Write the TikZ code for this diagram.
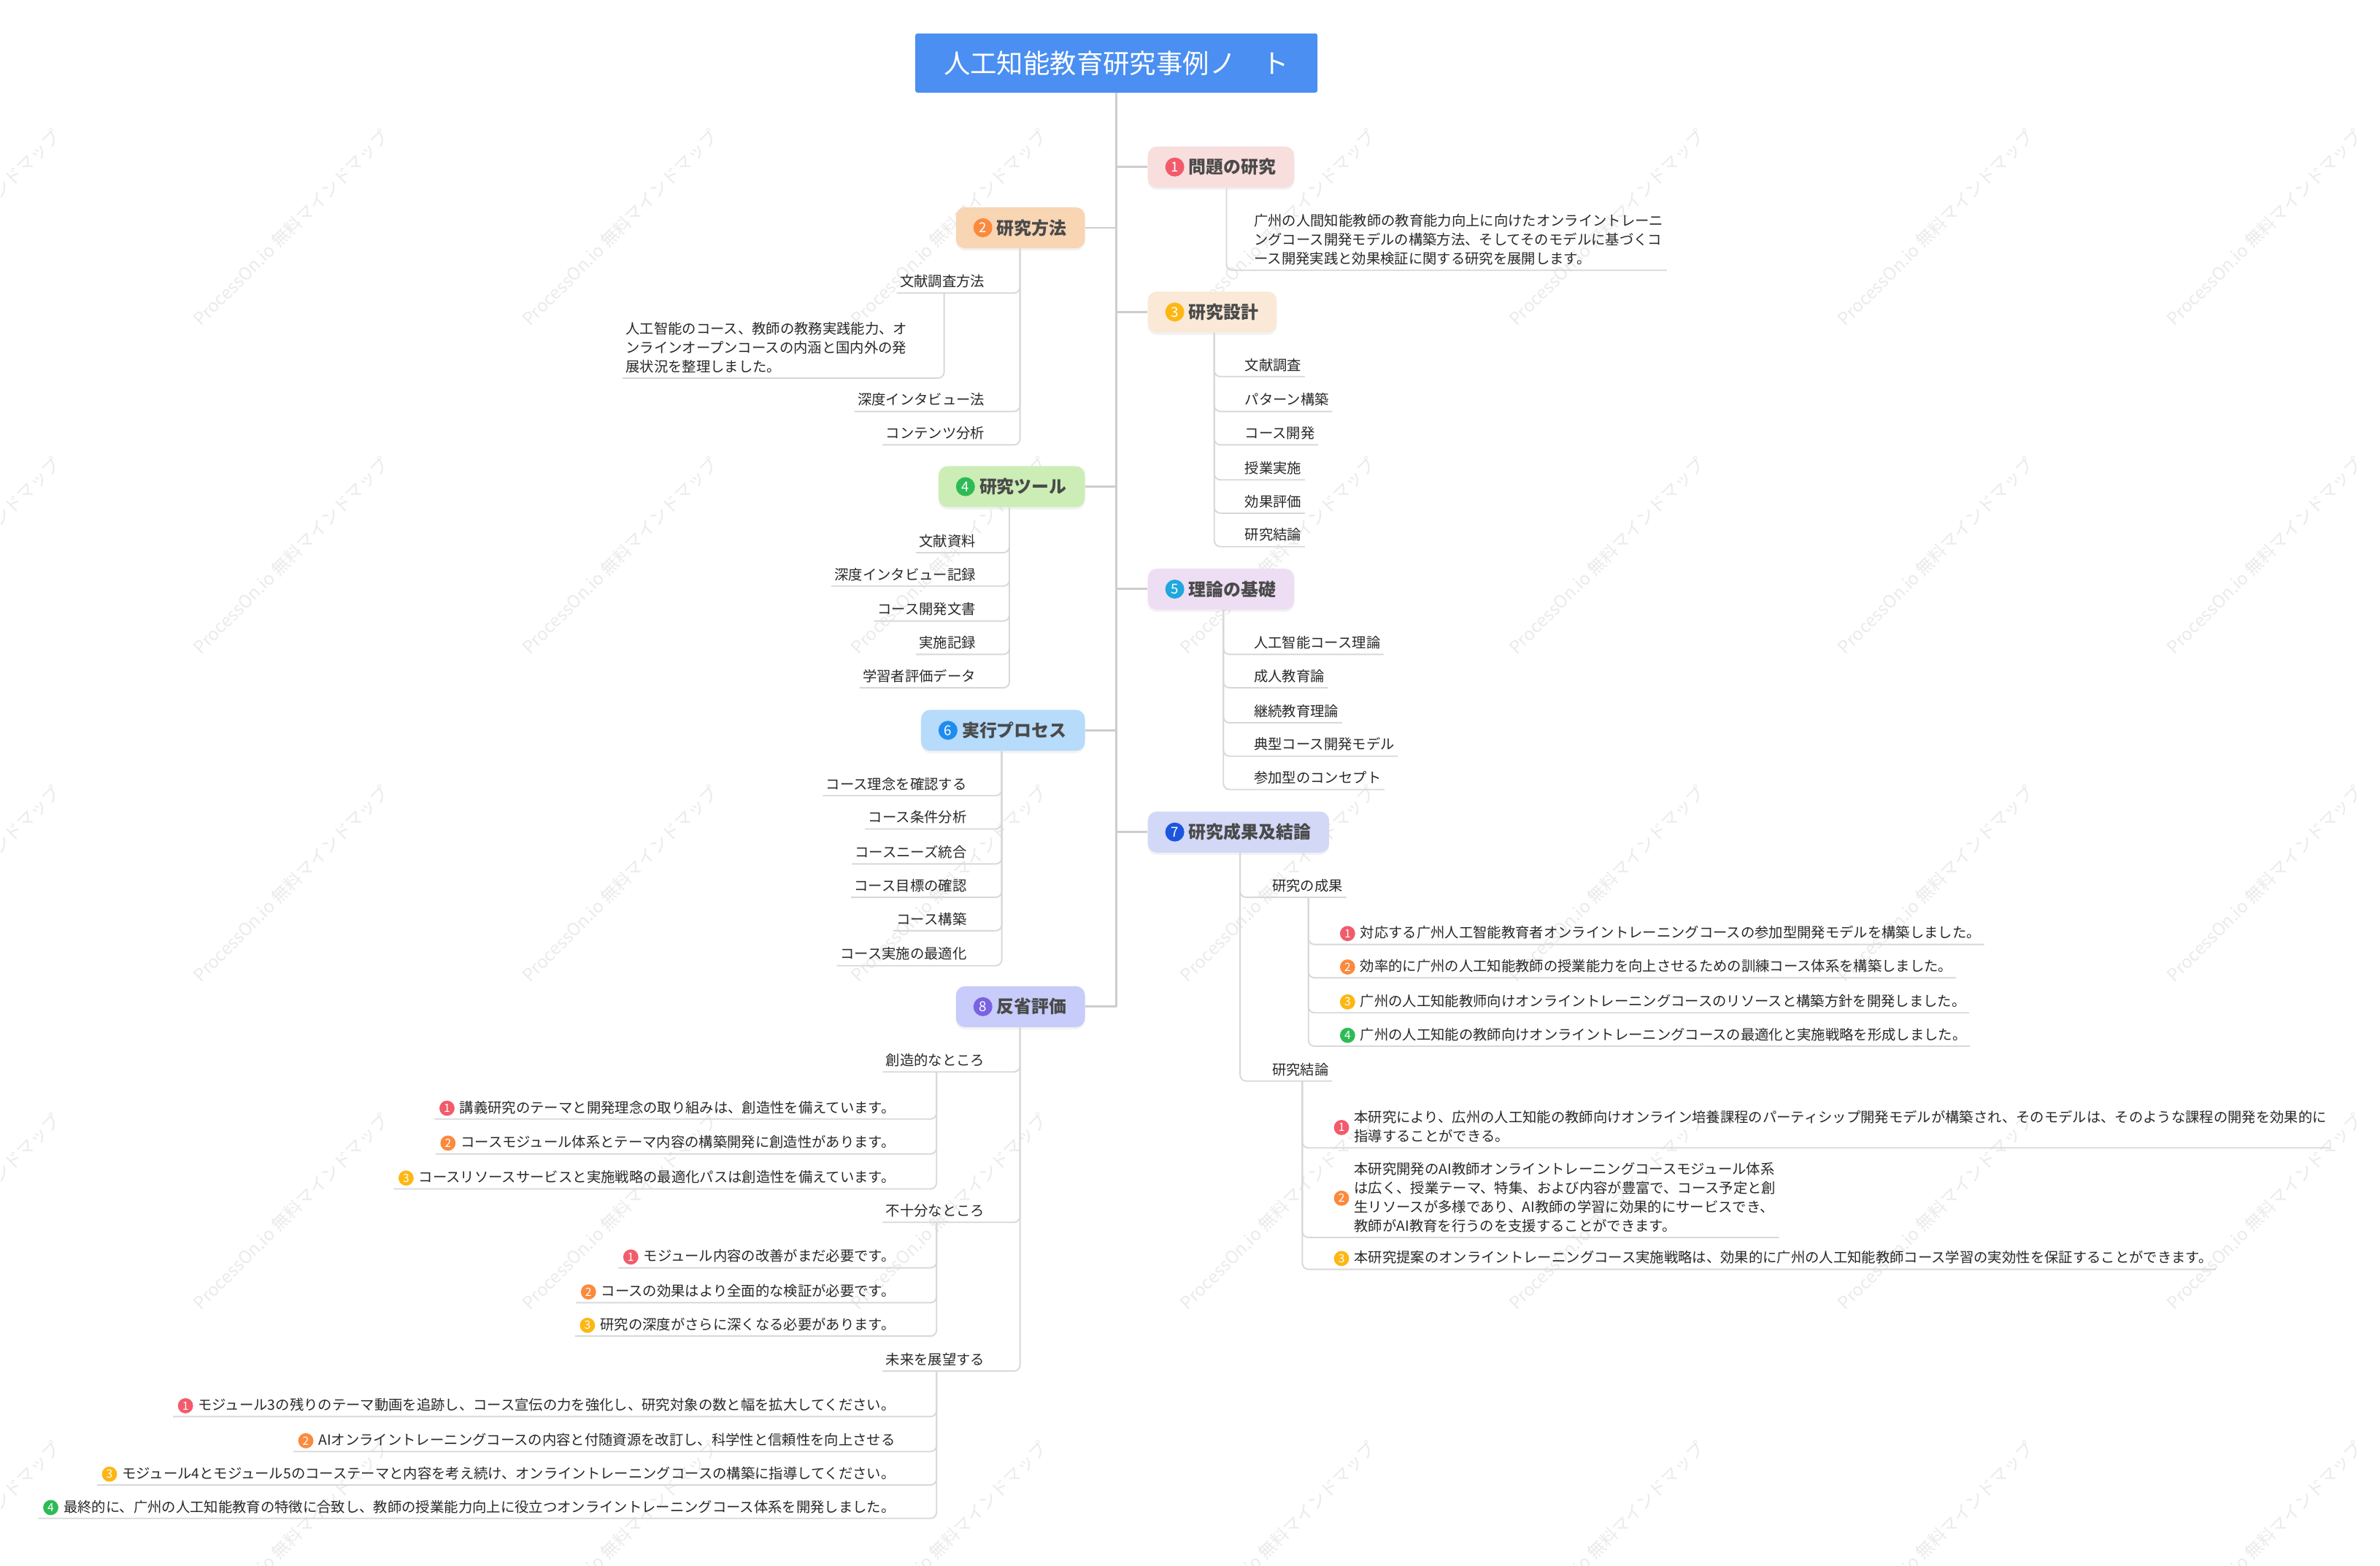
\documentclass[tikz,border=0pt]{standalone}
\usepackage{fontspec}
\setmainfont{Noto Sans CJK JP}
\usetikzlibrary{positioning,shadows}

\definecolor{rootblue}{HTML}{4A8FF1}
\definecolor{trunkgray}{HTML}{CDCDCD}
\definecolor{linkgray}{HTML}{D8D8D8}
\definecolor{headtext}{HTML}{4A4A4A}
\definecolor{leaftext}{HTML}{282828}
\definecolor{fillA}{HTML}{F9DEDE}
\definecolor{fillB}{HTML}{F8D5B3}
\definecolor{fillC}{HTML}{FBE9D8}
\definecolor{fillD}{HTML}{CDEDB7}
\definecolor{fillE}{HTML}{EEDEF4}
\definecolor{fillF}{HTML}{B6DBFB}
\definecolor{fillG}{HTML}{D3D8F7}
\definecolor{fillH}{HTML}{C7CCFA}
\definecolor{dotA}{HTML}{F25B6B}
\definecolor{dotB}{HTML}{FB8A3D}
\definecolor{dotC}{HTML}{FDB714}
\definecolor{dotD}{HTML}{2EBB55}
\definecolor{dotE}{HTML}{20A7DD}
\definecolor{dotF}{HTML}{1E8CF0}
\definecolor{dotG}{HTML}{1C56DE}
\definecolor{dotH}{HTML}{7B62E0}

\tikzset{
  root/.style={fill=rootblue, text=white, rounded corners=1.5pt,
    minimum width=265pt, minimum height=39pt, font=\fontsize{17.5}{20}\selectfont},
  topic/.style={rounded corners=6pt, minimum height=27pt, inner xsep=12pt,
    text=headtext, font=\fontsize{11.5}{13}\selectfont\bfseries,
    drop shadow={shadow xshift=0pt, shadow yshift=-1.5pt, opacity=0.10}},
  topicdot/.style={circle, inner sep=0pt, minimum size=12.5pt, text=white,
    font=\fontsize{9}{9}\selectfont},
  itemdot/.style={circle, inner sep=0pt, minimum size=10pt, text=white,
    font=\fontsize{7.5}{7.5}\selectfont},
  leaf/.style={inner xsep=2pt, inner ysep=2pt, text depth=2pt, text=leaftext,
    font=\fontsize{9.3}{12.5}\selectfont},
  para/.style={leaf, align=left},
  trunk/.style={draw=trunkgray, line width=1.4pt},
  link/.style={draw=linkgray, line width=0.9pt, rounded corners=4pt},
  wmark/.style={rotate=45, text=black!8, font=\fontsize{11.5}{12}\selectfont}
}

\begin{document}
\begin{tikzpicture}[x=1pt, y=-1pt]
  \fill[white] (0,0) rectangle (1568,1031);
  \useasboundingbox (0,0) rectangle (1568,1031);
  % watermark
  \foreach \i in {0,...,7}
    \foreach \j in {0,...,4}
      \node[wmark] at (-25+216.7*\i, 150+216*\j) {ProcessOn.io 無料マインドマップ};

  % root and main branches
  \node[root] (root) at (735.5,41.5) {人工知能教育研究事例ノ　ト};
  \node[topic, fill=fillA, anchor=west] (t1) at (756,110) {\hspace*{15pt}問題の研究};
  \node[topic, fill=fillB, anchor=east] (t2) at (715,150) {\hspace*{15pt}研究方法};
  \node[topic, fill=fillC, anchor=west] (t3) at (756,205.5) {\hspace*{15pt}研究設計};
  \node[topic, fill=fillD, anchor=east] (t4) at (715,320.5) {\hspace*{15pt}研究ツール};
  \node[topic, fill=fillE, anchor=west] (t5) at (756,388) {\hspace*{15pt}理論の基礎};
  \node[topic, fill=fillF, anchor=east] (t6) at (715,481) {\hspace*{15pt}実行プロセス};
  \node[topic, fill=fillG, anchor=west] (t7) at (756,548) {\hspace*{15pt}研究成果及結論};
  \node[topic, fill=fillH, anchor=east] (t8) at (715,663) {\hspace*{15pt}反省評価};
  \node[topicdot, fill=dotA, right=11.5pt of t1.west] (t1d) {1};
  \node[topicdot, fill=dotB, right=11.5pt of t2.west] (t2d) {2};
  \node[topicdot, fill=dotC, right=11.5pt of t3.west] (t3d) {3};
  \node[topicdot, fill=dotD, right=11.5pt of t4.west] (t4d) {4};
  \node[topicdot, fill=dotE, right=11.5pt of t5.west] (t5d) {5};
  \node[topicdot, fill=dotF, right=11.5pt of t6.west] (t6d) {6};
  \node[topicdot, fill=dotG, right=11.5pt of t7.west] (t7d) {7};
  \node[topicdot, fill=dotH, right=11.5pt of t8.west] (t8d) {8};

  \draw[trunk] (root.south) -- (root.south |- t8.east);
  \draw[trunk] (root.south |- t1.west) -- (t1.west);
  \draw[trunk] (root.south |- t2.east) -- (t2.east);
  \draw[trunk] (root.south |- t3.west) -- (t3.west);
  \draw[trunk] (root.south |- t4.east) -- (t4.east);
  \draw[trunk] (root.south |- t5.west) -- (t5.west);
  \draw[trunk] (root.south |- t6.east) -- (t6.east);
  \draw[trunk] (root.south |- t7.west) -- (t7.west);
  \draw[trunk] (root.south |- t8.east) -- (t8.east);

  % 1 問題の研究
  \coordinate (b1) at ([xshift=52pt]t1.south west);
  \node[para, anchor=south west] (p1) at (824,178)
    {广州の人間知能教師の教育能力向上に向けたオンライントレーニ\\ングコース開発モデルの構築方法、そしてそのモデルに基づくコ\\ース開発実践と効果検証に関する研究を展開します。};
  \draw[link] (b1) |- (p1.south east);

  % 2 研究方法
  \coordinate (b2) at ([xshift=-43pt]t2.south east);
  \node[leaf, anchor=south east] (l21) at (651,193) {文献調査方法};
  \node[leaf, anchor=south east] (l22) at (651,271) {深度インタビュー法};
  \node[leaf, anchor=south east] (l23) at (651,293) {コンテンツ分析};
  \draw[link] (b2) |- (l21.south west);
  \draw[link] (b2) |- (l22.south west);
  \draw[link] (b2) |- (l23.south west);
  \coordinate (b21) at ([xshift=-29pt]l21.south east);
  \node[para, anchor=south east] (p21) at (600,249)
    {人工智能のコース、教師の教務実践能力、オ\\ンラインオープンコースの内涵と国内外の発\\展状況を整理しました。};
  \draw[link] (b21) |- (p21.south west);

  % 3 研究設計
  \coordinate (b3) at ([xshift=44pt]t3.south west);
  \node[leaf, anchor=south west] (l31) at (818,248) {文献調査};
  \node[leaf, anchor=south west] (l32) at (818,271) {パターン構築};
  \node[leaf, anchor=south west] (l33) at (818,293) {コース開発};
  \node[leaf, anchor=south west] (l34) at (818,316) {授業実施};
  \node[leaf, anchor=south west] (l35) at (818,338) {効果評価};
  \node[leaf, anchor=south west] (l36) at (818,360) {研究結論};
  \draw[link] (b3) |- (l31.south east);
  \draw[link] (b3) |- (l32.south east);
  \draw[link] (b3) |- (l33.south east);
  \draw[link] (b3) |- (l34.south east);
  \draw[link] (b3) |- (l35.south east);
  \draw[link] (b3) |- (l36.south east);

  % 4 研究ツール
  \coordinate (b4) at ([xshift=-50pt]t4.south east);
  \node[leaf, anchor=south east] (l41) at (645,364) {文献資料};
  \node[leaf, anchor=south east] (l42) at (645,386) {深度インタビュー記録};
  \node[leaf, anchor=south east] (l43) at (645,409) {コース開発文書};
  \node[leaf, anchor=south east] (l44) at (645,431) {実施記録};
  \node[leaf, anchor=south east] (l45) at (645,453) {学習者評価データ};
  \draw[link] (b4) |- (l41.south west);
  \draw[link] (b4) |- (l42.south west);
  \draw[link] (b4) |- (l43.south west);
  \draw[link] (b4) |- (l44.south west);
  \draw[link] (b4) |- (l45.south west);

  % 5 理論の基礎
  \coordinate (b5) at ([xshift=50pt]t5.south west);
  \node[leaf, anchor=south west] (l51) at (824,431) {人工智能コース理論};
  \node[leaf, anchor=south west] (l52) at (824,453) {成人教育論};
  \node[leaf, anchor=south west] (l53) at (824,476) {継続教育理論};
  \node[leaf, anchor=south west] (l54) at (824,498) {典型コース開発モデル};
  \node[leaf, anchor=south west] (l55) at (824,520) {参加型のコンセプト};
  \draw[link] (b5) |- (l51.south east);
  \draw[link] (b5) |- (l52.south east);
  \draw[link] (b5) |- (l53.south east);
  \draw[link] (b5) |- (l54.south east);
  \draw[link] (b5) |- (l55.south east);

  % 6 実行プロセス
  \coordinate (b6) at ([xshift=-55pt]t6.south east);
  \node[leaf, anchor=south east] (l61) at (639,524) {コース理念を確認する};
  \node[leaf, anchor=south east] (l62) at (639,546) {コース条件分析};
  \node[leaf, anchor=south east] (l63) at (639,569) {コースニーズ統合};
  \node[leaf, anchor=south east] (l64) at (639,591) {コース目標の確認};
  \node[leaf, anchor=south east] (l65) at (639,613) {コース構築};
  \node[leaf, anchor=south east] (l66) at (639,636) {コース実施の最適化};
  \draw[link] (b6) |- (l61.south west);
  \draw[link] (b6) |- (l62.south west);
  \draw[link] (b6) |- (l63.south west);
  \draw[link] (b6) |- (l64.south west);
  \draw[link] (b6) |- (l65.south west);
  \draw[link] (b6) |- (l66.south west);

  % 7 研究成果及結論
  \coordinate (b7) at ([xshift=61pt]t7.south west);
  \node[leaf, anchor=south west] (l71) at (836,591) {研究の成果};
  \node[leaf, anchor=south west] (l72) at (836,712) {研究結論};
  \draw[link] (b7) |- (l71.south east);
  \draw[link] (b7) |- (l72.south east);
  \coordinate (b71) at ([xshift=26pt]l71.south west);
  \node[leaf, anchor=south west] (r1) at (894,622) {対応する广州人工智能教育者オンライントレーニングコースの参加型開発モデルを構築しました。};
  \node[leaf, anchor=south west] (r2) at (894,644) {効率的に广州の人工知能教師の授業能力を向上させるための訓練コース体系を構築しました。};
  \node[leaf, anchor=south west] (r3) at (894,667) {广州の人工知能教师向けオンライントレーニングコースのリソースと構築方針を開発しました。};
  \node[leaf, anchor=south west] (r4) at (894,689) {广州の人工知能の教師向けオンライントレーニングコースの最適化と実施戦略を形成しました。};
  \node[itemdot, fill=dotA, left=1pt of r1.west] (r1d) {1};
  \node[itemdot, fill=dotB, left=1pt of r2.west] (r2d) {2};
  \node[itemdot, fill=dotC, left=1pt of r3.west] (r3d) {3};
  \node[itemdot, fill=dotD, left=1pt of r4.west] (r4d) {4};
  \draw[link] (b71) |- (r1.south east);
  \draw[link] (b71) |- (r2.south east);
  \draw[link] (b71) |- (r3.south east);
  \draw[link] (b71) |- (r4.south east);
  \coordinate (b72) at ([xshift=22pt]l72.south west);
  \node[para, anchor=south west] (s1) at (890,756)
    {本研究により、広州の人工知能の教師向けオンライン培養課程のパーティシップ開発モデルが構築され、そのモデルは、そのような課程の開発を効果的に\\指導することができる。};
  \node[para, anchor=south west] (s2) at (890,815)
    {本研究開発のAI教師オンライントレーニングコースモジュール体系\\は広く、授業テーマ、特集、および内容が豊富で、コース予定と創\\生リソースが多様であり、AI教師の学習に効果的にサービスでき、\\教師がAI教育を行うのを支援することができます。};
  \node[leaf, anchor=south west] (s3) at (890,836) {本研究提案のオンライントレーニングコース実施戦略は、効果的に广州の人工知能教師コース学習の実効性を保証することができます。};
  \node[itemdot, fill=dotA, left=1pt of s1.west] (s1d) {1};
  \node[itemdot, fill=dotB, left=1pt of s2.west] (s2d) {2};
  \node[itemdot, fill=dotC, left=1pt of s3.west] (s3d) {3};
  \draw[link] (b72) |- (s1.south east);
  \draw[link] (b72) |- (s2.south east);
  \draw[link] (b72) |- (s3.south east);

  % 8 反省評価
  \coordinate (b8) at ([xshift=-43pt]t8.south east);
  \node[leaf, anchor=south east] (l81) at (651,706) {創造的なところ};
  \node[leaf, anchor=south east] (l82) at (651,805) {不十分なところ};
  \node[leaf, anchor=south east] (l83) at (651,903) {未来を展望する};
  \draw[link] (b8) |- (l81.south west);
  \draw[link] (b8) |- (l82.south west);
  \draw[link] (b8) |- (l83.south west);

  \coordinate (b81) at ([xshift=-34pt]l81.south east);
  \node[leaf, anchor=south east] (c1) at (592,737) {講義研究のテーマと開発理念の取り組みは、創造性を備えています。};
  \node[leaf, anchor=south east] (c2) at (592,760) {コースモジュール体系とテーマ内容の構築開発に創造性があります。};
  \node[leaf, anchor=south east] (c3) at (592,783) {コースリソースサービスと実施戦略の最適化パスは創造性を備えています。};
  \node[itemdot, fill=dotA, left=1pt of c1.west] (c1d) {1};
  \node[itemdot, fill=dotB, left=1pt of c2.west] (c2d) {2};
  \node[itemdot, fill=dotC, left=1pt of c3.west] (c3d) {3};
  \draw[link] (b81) |- ([xshift=-3pt]c1d.west |- c1.south);
  \draw[link] (b81) |- ([xshift=-3pt]c2d.west |- c2.south);
  \draw[link] (b81) |- ([xshift=-3pt]c3d.west |- c3.south);

  \coordinate (b82) at ([xshift=-34pt]l82.south east);
  \node[leaf, anchor=south east] (d1) at (592,835) {モジュール内容の改善がまだ必要です。};
  \node[leaf, anchor=south east] (d2) at (592,858) {コースの効果はより全面的な検証が必要です。};
  \node[leaf, anchor=south east] (d3) at (592,880) {研究の深度がさらに深くなる必要があります。};
  \node[itemdot, fill=dotA, left=1pt of d1.west] (d1d) {1};
  \node[itemdot, fill=dotB, left=1pt of d2.west] (d2d) {2};
  \node[itemdot, fill=dotC, left=1pt of d3.west] (d3d) {3};
  \draw[link] (b82) |- ([xshift=-3pt]d1d.west |- d1.south);
  \draw[link] (b82) |- ([xshift=-3pt]d2d.west |- d2.south);
  \draw[link] (b82) |- ([xshift=-3pt]d3d.west |- d3.south);

  \coordinate (b83) at ([xshift=-34pt]l83.south east);
  \node[leaf, anchor=south east] (e1) at (592,933) {モジュール3の残りのテーマ動画を追跡し、コース宣伝の力を強化し、研究対象の数と幅を拡大してください。};
  \node[leaf, anchor=south east] (e2) at (592,956) {AIオンライントレーニングコースの内容と付随資源を改訂し、科学性と信頼性を向上させる};
  \node[leaf, anchor=south east] (e3) at (592,978) {モジュール4とモジュール5のコーステーマと内容を考え続け、オンライントレーニングコースの構築に指導してください。};
  \node[leaf, anchor=south east] (e4) at (592,1000) {最終的に、广州の人工知能教育の特徴に合致し、教師の授業能力向上に役立つオンライントレーニングコース体系を開発しました。};
  \node[itemdot, fill=dotA, left=1pt of e1.west] (e1d) {1};
  \node[itemdot, fill=dotB, left=1pt of e2.west] (e2d) {2};
  \node[itemdot, fill=dotC, left=1pt of e3.west] (e3d) {3};
  \node[itemdot, fill=dotD, left=1pt of e4.west] (e4d) {4};
  \draw[link] (b83) |- ([xshift=-3pt]e1d.west |- e1.south);
  \draw[link] (b83) |- ([xshift=-3pt]e2d.west |- e2.south);
  \draw[link] (b83) |- ([xshift=-3pt]e3d.west |- e3.south);
  \draw[link] (b83) |- ([xshift=-3pt]e4d.west |- e4.south);
\end{tikzpicture}
\end{document}
